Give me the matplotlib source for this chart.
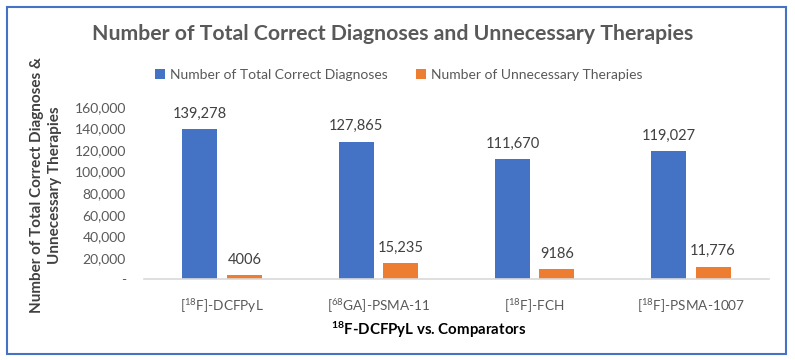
import matplotlib
matplotlib.use("Agg")
import matplotlib.pyplot as plt
import numpy as np
from matplotlib.patches import Rectangle

plt.rcParams['font.family'] = ['Lato', 'DejaVu Sans']
plt.rcParams['mathtext.default'] = 'regular'

# данные
categories = [r'[$^{18}$F]-DCFPyL', r'[$^{68}$GA]-PSMA-11', r'[$^{18}$F]-FCH', r'[$^{18}$F]-PSMA-1007']
correct = [139278, 127865, 111670, 119027]
unnecessary = [4006, 15235, 9186, 11776]
correct_labels = ['139,278', '127,865', '111,670', '119,027']
unnecessary_labels = ['4006', '15,235', '9186', '11,776']
yticks = [0, 20000, 40000, 60000, 80000, 100000, 120000, 140000, 160000]
ytick_labels = ['-', '20,000', '40,000', '60,000', '80,000', '100,000', '120,000', '140,000', '160,000']

blue = '#4472C4'
orange = '#ED7D31'
grey = '#595959'

fig = plt.figure(figsize=(7.95, 3.6), dpi=100)
ax = fig.add_axes([144/795, 1 - 279.3/360, 625/795, 172.3/360])

x = np.arange(len(categories))
w = 0.224
off = 0.142
b1 = ax.bar(x - off, correct, w, color=blue, label='Number of Total Correct Diagnoses')
b2 = ax.bar(x + off, unnecessary, w, color=orange, label='Number of Unnecessary Therapies')

# подписи значений над столбцами
for bars, labels in [(b1, correct_labels), (b2, unnecessary_labels)]:
    for bar, lab in zip(bars, labels):
        ax.annotate(lab, (bar.get_x() + bar.get_width()/2, bar.get_height()), xytext=(0, 6),
                    textcoords='offset points', ha='center', va='bottom', fontsize=10.5, color='#404040')

ax.set_xlim(-0.5, len(categories) - 0.5)
ax.set_ylim(0, 160000)
ax.set_yticks(yticks)
ax.set_yticklabels(ytick_labels)
ax.set_xticks(x)
ax.set_xticklabels(categories)
ax.tick_params(axis='both', length=0, colors=grey, labelsize=10)
ax.tick_params(axis='x', pad=13, labelsize=9.8)
ax.tick_params(axis='y', pad=13)
for s in ['top', 'right', 'left']:
    ax.spines[s].set_visible(False)
ax.spines['bottom'].set_color('#D9D9D9')
ax.spines['bottom'].set_linewidth(1.2)

fig.text(46/795, 1 - 185/360, 'Number of Total Correct Diagnoses &\nUnnecessary Therapies',
         rotation=90, ha='center', va='center', multialignment='center', fontsize=11,
         fontweight='bold', color='#404040', linespacing=1.45)
fig.text(429/795, 1 - 330/360, r'$^{18}$F-DCFPyL vs. Comparators', ha='center', va='center',
         fontsize=10.8, fontweight='bold', color='black')

fig.text(393/795, 1 - 34/360, 'Number of Total Correct Diagnoses and Unnecessary Therapies',
         ha='center', va='center', fontsize=15.3, fontweight='bold', color=grey)

fig.legend(loc='center', bbox_to_anchor=(399/795, 1 - 75/360), ncol=2, frameon=False,
           fontsize=10, handlelength=0.7, handleheight=0.7, handletextpad=0.4, columnspacing=2.0,
           labelcolor=grey)

fig.patches.append(Rectangle((7/795, 1 - 354/360), 779/795, 347/360, transform=fig.transFigure,
                             fill=False, edgecolor=blue, linewidth=1.5))

fig.savefig('out.png', dpi=100)
